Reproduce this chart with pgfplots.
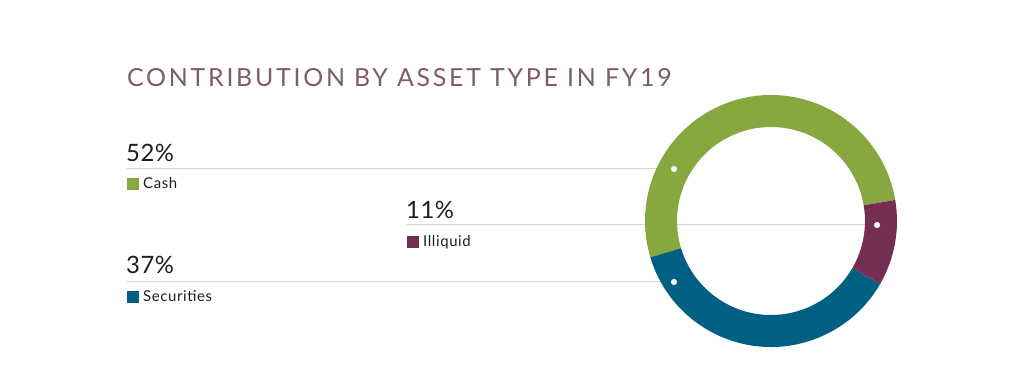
\documentclass[border=0pt]{standalone}
\usepackage{pgfplots}
\pgfplotsset{compat=1.18}
\usepackage{pgfplotstable}
\usepackage{fontspec}
\setmainfont{Lato}
\newfontfamily\titlefont[LetterSpace=11]{Lato}
\newfontfamily\labfont[LetterSpace=4]{Lato}
\newfontfamily\numfont[LetterSpace=2]{Lato}
\definecolor{cashgreen}{HTML}{87A83F}
\definecolor{illiq}{HTML}{742E53}
\definecolor{secblue}{HTML}{006084}
\definecolor{titlecol}{HTML}{7E5D6B}
\definecolor{linegray}{HTML}{CFCFCF}
\definecolor{txt}{HTML}{1E1E1E}

\pgfdeclareplotmark{seg}{%
  \pgfpathmoveto{\pgfpointpolar{\segA}{126bp}}%
  \pgfpatharc{\segA}{\segB}{126bp}%
  \pgfpathlineto{\pgfpointpolar{\segB}{94bp}}%
  \pgfpatharc{\segB}{\segA}{94bp}%
  \pgfpathclose
  \pgfusepathqfill
}
\pgfplotsset{donutseg/.style={only marks, mark=seg,
  visualization depends on={\thisrow{start}\as\segA},
  visualization depends on={\thisrow{end}\as\segB}}}

% ring segments: centre, share (%), start and end angle (deg)
\pgfplotstableread{
x y pct start end
771 167 52 9.6 196.8
}\cashtab
\pgfplotstableread{
x y pct start end
771 167 37 196.8 330.0
}\sectab
\pgfplotstableread{
x y pct start end
771 167 11 330.0 369.6
}\illtab

\begin{document}
\begin{tikzpicture}
\useasboundingbox (0,0) rectangle (1024bp,388bp);
\begin{axis}[
  scale only axis, width=1024bp, height=388bp,
  xmin=0, xmax=1024, ymin=0, ymax=388,
  hide axis, clip=false,
]
% donut
\addplot[donutseg, color=cashgreen] table[x=x,y=y] {\cashtab};
\addplot[donutseg, color=secblue] table[x=x,y=y] {\sectab};
\addplot[donutseg, color=illiq] table[x=x,y=y] {\illtab};
% leader lines
\addplot[linegray, line width=1bp, opacity=0.9, mark=none] coordinates {(127,219) (674,219)};
\addplot[linegray, line width=1bp, opacity=0.9, mark=none] coordinates {(407,163) (877,163)};
\addplot[linegray, line width=1bp, opacity=0.9, mark=none] coordinates {(127,106) (674,106)};
% dots
\addplot[only marks, mark=*, mark size=2.8bp, draw=white, fill=white] coordinates {(674,219) (877,163) (674,106)};
% legend squares
\addplot[only marks, mark=square*, mark size=5.5bp, cashgreen] coordinates {(132.5,204.5)};
\addplot[only marks, mark=square*, mark size=5.5bp, illiq] coordinates {(412.5,146.5)};
\addplot[only marks, mark=square*, mark size=5.5bp, secblue] coordinates {(132.5,91)};
% texts
\node[anchor=base west, inner sep=0, text=titlecol] at (axis cs:127,301)
  {\titlefont\fontsize{25}{30}\selectfont CONTRIBUTION BY ASSET TYPE IN FY19};
\node[anchor=base west, inner sep=0, text=txt] at (axis cs:126,226) {\numfont\fontsize{24}{28}\selectfont 52\%};
\node[anchor=base west, inner sep=0, text=txt] at (axis cs:143,199) {\labfont\fontsize{15}{18}\selectfont Cash};
\node[anchor=base west, inner sep=0, text=txt] at (axis cs:406,169) {\numfont\fontsize{24}{28}\selectfont 11\%};
\node[anchor=base west, inner sep=0, text=txt] at (axis cs:423,141) {\labfont\fontsize{15}{18}\selectfont Illiquid};
\node[anchor=base west, inner sep=0, text=txt] at (axis cs:126,114) {\numfont\fontsize{24}{28}\selectfont 37\%};
\node[anchor=base west, inner sep=0, text=txt] at (axis cs:143,86) {\labfont\fontsize{15}{18}\selectfont Securities};
\end{axis}
\end{tikzpicture}
\end{document}
